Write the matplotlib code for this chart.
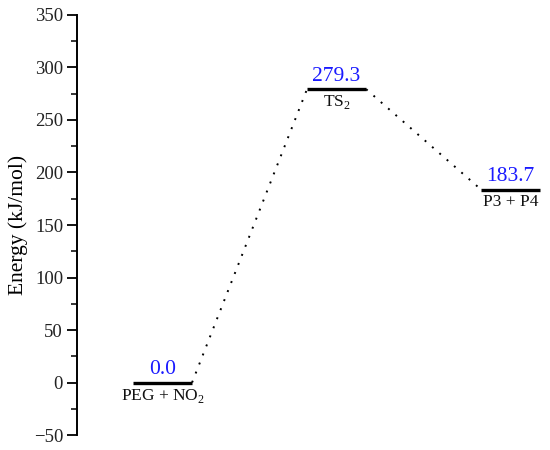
import matplotlib
matplotlib.use("Agg")
import matplotlib.pyplot as plt
from matplotlib.ticker import MultipleLocator

species = ["PEG + NO$_2$", "TS$_2$", "P3 + P4"]
energies = [0.0, 279.3, 183.7]
value_labels = ["0.0", "279.3", "183.7"]

plt.rcParams['font.family'] = ['Liberation Serif', 'DejaVu Serif']
plt.rcParams['mathtext.fontset'] = 'custom'
plt.rcParams['mathtext.rm'] = 'Liberation Serif'

fig = plt.figure(figsize=(5.5, 4.5), dpi=100)
ax = fig.add_axes([0.14, 0.0333, 0.855, 0.9334])

hw = 0.17
xs = [1, 2, 3]
for i, (x, e) in enumerate(zip(xs, energies)):
    ax.plot([x - hw, x + hw], [e, e], color='black', lw=2.4, solid_capstyle='butt')
    ax.text(x, e + 3, value_labels[i], color='#1a1aff', fontsize=15.5,
            ha='center', va='bottom')
    ax.text(x, e - 4, species[i], color='#111111', fontsize=12.5,
            ha='center', va='top')
for i in range(len(xs) - 1):
    ax.plot([xs[i] + hw, xs[i + 1] - hw], [energies[i], energies[i + 1]],
            color='black', lw=1.4, linestyle=(0, (1, 4)))

ax.set_xlim(0.509, 3.21)
ax.set_ylim(-50, 350)
ax.yaxis.set_major_locator(MultipleLocator(50))
ax.yaxis.set_minor_locator(MultipleLocator(25))
ax.set_ylabel("Energy (kJ/mol)", fontsize=15.5, labelpad=4)
for s in ['top', 'right', 'bottom']:
    ax.spines[s].set_visible(False)
ax.spines['left'].set_linewidth(1.4)
ax.set_xticks([])
ax.tick_params(axis='y', which='major', length=7, width=1.3, labelsize=13.5,
               direction='out', pad=3, labelcolor='#222222')
ax.tick_params(axis='y', which='minor', length=4, width=1.1, direction='out')

fig.savefig("out.png", dpi=100)
